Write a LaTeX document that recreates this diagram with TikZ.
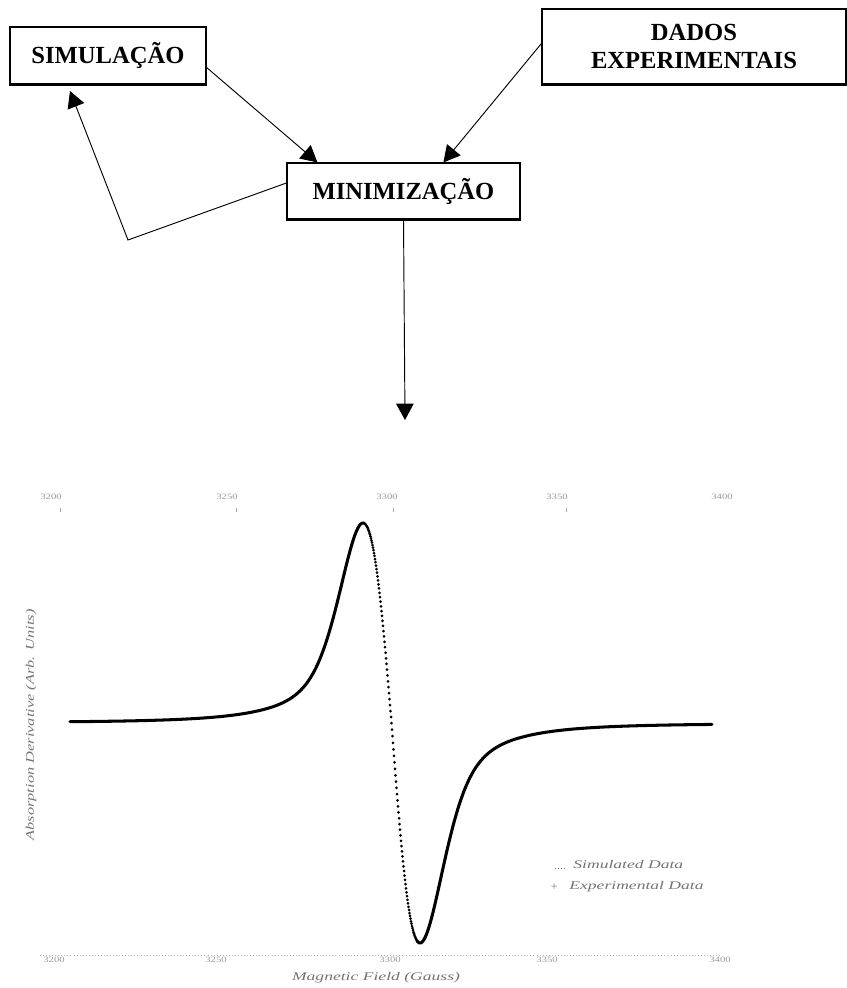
\documentclass[tikz,border=0pt]{standalone}
\usepackage{fontspec}
\setmainfont{Liberation Serif}
\usetikzlibrary{arrows.meta,calc}
\newcommand\stretchtext[2][1.5]{\scalebox{#1}[1]{#2}}
\begin{document}
\begin{tikzpicture}[x=0.03cm,y=-0.03cm,
  box/.style={draw,line width=1pt,fill=white,align=center,inner sep=0pt,
    font=\fontsize{21}{24}\selectfont\bfseries},
  link/.style={line width=0.8pt,-{Triangle[length=14pt,width=15pt]}},
  curve/.style={line width=2.6pt,line cap=round,line join=round},
  tick label/.style={text=black!40,font=\fontsize{7}{8}\selectfont},
  note/.style={text=black!55,font=\fontsize{10}{11}\selectfont\itshape,inner sep=1pt},
  declare function={
    uL(\t)=(\t-391.5)/49.4;
    uG(\t)=(\t-391.5)/28.5;
    gL(\t)=-2*uL(\t)/((1+uL(\t)*uL(\t))*(1+uL(\t)*uL(\t)))/0.6495;
    gG(\t)=-uG(\t)*exp(max(-uG(\t)*uG(\t)/2,-9))/0.6065;
    amp(\t)=(\t<391.5 ? 200 : 220);
    yy(\t)=723-(0.5*gL(\t)+0.5*gG(\t))*amp(\t);
  }]
\useasboundingbox (0,0) rectangle (846,988);

% flow chart boxes
\node[box,minimum width=5.88cm,minimum height=1.71cm] (sim) at (108,55.5) {SIMULAÇÃO};
\node[box,minimum width=9.12cm,minimum height=2.25cm] (dados) at (694,46.5) {DADOS\\EXPERIMENTAIS};
\node[box,minimum width=6.99cm,minimum height=1.68cm] (mini) at (403.5,191) {MINIMIZAÇÃO};
\foreach \b in {sim,dados,mini}
  \draw[line width=1.8pt] (\b.south west) -- (\b.south east);

% connectors
\coordinate (bend) at (128,240);
\coordinate (back) at (70,91);
\coordinate (plotin) at (405,420);
\draw[link] ($(sim.east)+(0,12)$) -- ($(mini.north west)+(31,0)$);
\draw[link] ($(dados.west)+(0,-3)$) -- ($(mini.north west)+(157,0)$);
\draw[link] ($(mini.west)+(0,-8)$) -- (bend) -- (back);
\draw[link] (mini.south) -- (plotin);

% faint plot frame: ticks and labels
\foreach \x in {60,236,393,566}
  \draw[black!35,line width=0.4pt] (\x,508) -- (\x,512);
\foreach \x/\v in {51/3200,227/3250,387/3300,557/3350,722/3400}
  \node[tick label] at (\x,497) {\stretchtext[1.3]{\v}};
\draw[black!30,line width=0.6pt,dotted] (40,955) -- (722,955);
\foreach \x/\v in {54/3200,216/3250,390/3300,547/3350,720/3400}
  \node[tick label] at (\x,960) {\stretchtext[1.3]{\v}};
\node[note] (xlab) at (376,978) {\stretchtext{Magnetic Field (Gauss)}};
\node[note,rotate=90] (ylab) at (31,725) {\stretchtext[1.4]{Absorption Derivative (Arb. Units)}};

% derivative line shape
\draw[curve] plot[domain=70:364,samples=240] (\x,{yy(\x)});
\foreach \t in {364.5,365,...,417}
  \fill (\t,{yy(\t)}) circle (1.5);
\draw[curve] plot[domain=417:712,samples=240] (\x,{yy(\x)});

% legend
\draw[black!55,line width=0.6pt,dotted] (555,868) -- (566,868);
\node[note,anchor=west] (leg1) at (572,864) {\stretchtext{Simulated Data}};
\node[note] (plus) at (554,887) {+};
\node[note,anchor=west] (leg2) at (568,887) {\stretchtext{Experimental Data}};
\end{tikzpicture}
\end{document}
